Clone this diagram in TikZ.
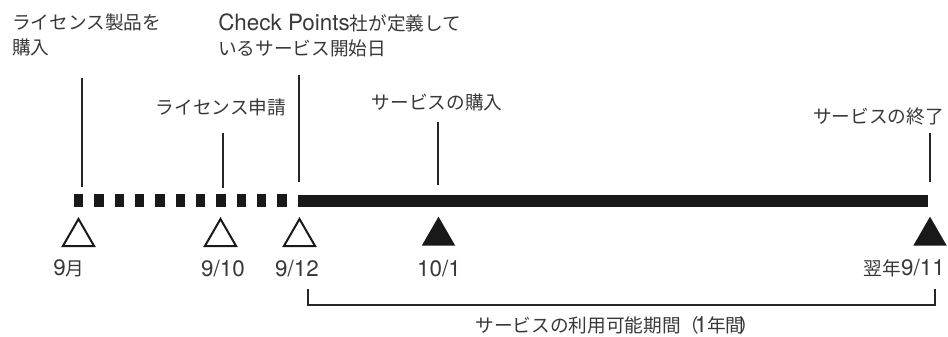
\documentclass[tikz,border=0pt]{standalone}
\usepackage{fontspec}
\setmainfont{Noto Sans CJK JP}
\newfontfamily\latin{TeX Gyre Heros}[Scale=1.2]
\usetikzlibrary{shapes.geometric}

\tikzset{
  lbl/.style={inner sep=0pt, text=black!78, font=\fontsize{14}{18.75}\selectfont},
  tickline/.style={line width=1.5pt, black!85},
  opentri/.style={regular polygon, regular polygon sides=3, draw=black!90, line width=1.5pt, minimum size=27pt, inner sep=0pt},
  filltri/.style={regular polygon, regular polygon sides=3, fill=black!90, minimum size=29pt, inner sep=0pt}
}

\begin{document}
\begin{tikzpicture}[x=0.75pt,y=-0.75pt]
  \useasboundingbox (0,0) rectangle (948,336);

  % labels above the line
  \node[lbl, anchor=west, align=left] (prodbuy) at (12,35) {ライセンス製品を\\購入};
  \node[lbl, anchor=west, align=left] (cpstart) at (218,35) {{\latin Check Points}社が定義して\\いるサービス開始日};
  \node[lbl] (licapply) at (221,107) {ライセンス申請};
  \node[lbl] (svcbuy) at (437,102) {サービスの購入};
  \node[lbl, anchor=east] (svcend) at (944,116) {サービスの終了};

  % ticks
  \draw[tickline] (82,78) -- (82,187);
  \draw[tickline] (222.5,133) -- (222.5,188);
  \draw[tickline] (299,75) -- (299,182);
  \draw[tickline] (438,122) -- (438,185);
  \draw[tickline] (930,133) -- (930,182);

  % time line
  \foreach \k in {0,...,10}
    \fill[black!90] (74+20.33*\k,194) rectangle ++(9.3,13);
  \fill[black!90] (298,195) rectangle (928,207);

  % markers
  \node[opentri] (msep) at (78.5,237) {};
  \node[opentri] (mapply) at (220.5,237) {};
  \node[opentri] (mstart) at (299.5,237) {};
  \node[filltri] (mbuy) at (438.5,236) {};
  \node[filltri] (mend) at (930,236) {};

  % dates
  \node[lbl] (dsep) at (69,268.5) {{\latin 9}月};
  \node[lbl] (dapply) at (223,268.5) {\latin 9/10};
  \node[lbl] (dstart) at (297,268.5) {\latin 9/12};
  \node[lbl] (dbuy) at (439,268.5) {\latin 10/1};
  \node[lbl, anchor=east] (dend) at (945,268.5) {翌年{\latin 9/11}};

  % period
  \draw[tickline, line width=1.6pt] (308,289) -- (308,305) -- (935,305) -- (935,289);
  \node[lbl] (period) at (617,325.5) {サービスの利用可能期間（\kern-0.25em{\latin 1}年間\kern-0.25em）};
\end{tikzpicture}
\end{document}
